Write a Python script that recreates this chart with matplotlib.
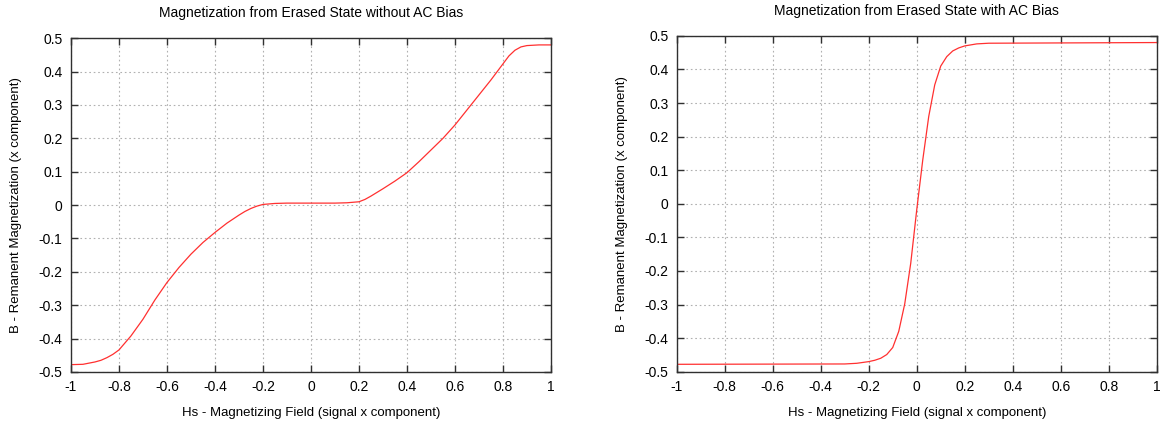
import matplotlib
matplotlib.use("Agg")
import matplotlib.pyplot as plt
from matplotlib.ticker import FixedLocator, FixedFormatter

plt.rcParams["font.family"] = ["Liberation Sans", "DejaVu Sans"]

# Remanent magnetization vs. signal field, starting from the erased state
hs_plain = [-1.0, -0.95, -0.9, -0.875, -0.85, -0.825, -0.8, -0.75, -0.7, -0.65, -0.6,
            -0.55, -0.5, -0.45, -0.4, -0.35, -0.3, -0.275, -0.25, -0.225, -0.2,
            -0.15, -0.1, 0.0, 0.1, 0.15, 0.2, 0.225, 0.25, 0.3, 0.35, 0.4, 0.45,
            0.5, 0.55, 0.6, 0.65, 0.7, 0.75, 0.8, 0.825, 0.85, 0.875, 0.9, 0.95, 1.0]
b_plain = [-0.478, -0.477, -0.47, -0.465, -0.457, -0.447, -0.434, -0.392, -0.342,
           -0.284, -0.232, -0.187, -0.147, -0.112, -0.082, -0.054, -0.03, -0.019,
           -0.01, -0.003, 0.002, 0.005, 0.006, 0.006, 0.006, 0.007, 0.01, 0.017,
           0.027, 0.049, 0.072, 0.097, 0.13, 0.165, 0.2, 0.24, 0.285, 0.33, 0.375,
           0.423, 0.447, 0.464, 0.474, 0.478, 0.48, 0.48]

# Same, with AC bias applied
hs_bias = [-1.0, -0.3, -0.25, -0.2, -0.175, -0.15, -0.125, -0.1, -0.075, -0.05,
           -0.025, 0.0, 0.025, 0.05, 0.075, 0.1, 0.125, 0.15, 0.175, 0.2, 0.25,
           0.3, 1.0]
b_bias = [-0.478, -0.477, -0.475, -0.47, -0.466, -0.46, -0.449, -0.428, -0.38,
          -0.298, -0.177, -0.018, 0.13, 0.26, 0.354, 0.41, 0.438, 0.455, 0.464,
          0.47, 0.476, 0.478, 0.48]

x_ticks = [-1, -0.8, -0.6, -0.4, -0.2, 0, 0.2, 0.4, 0.6, 0.8, 1]
x_tick_labels = ["-1", "-0.8", "-0.6", "-0.4", "-0.2", "0", "0.2", "0.4", "0.6", "0.8", "1"]
y_ticks = [-0.5, -0.4, -0.3, -0.2, -0.1, 0, 0.1, 0.2, 0.3, 0.4, 0.5]
y_tick_labels = ["-0.5", "-0.4", "-0.3", "-0.2", "-0.1", "0", "0.1", "0.2", "0.3", "0.4", "0.5"]

titles = ["Magnetization from Erased State without AC Bias",
          "Magnetization from Erased State with AC Bias"]


def draw_panel(ax, hs, b, title):
    ax.plot(hs, b, color="#ff3030", linewidth=0.9)
    ax.set_xlim(-1, 1)
    ax.set_ylim(-0.5, 0.5)
    ax.xaxis.set_major_locator(FixedLocator(x_ticks))
    ax.xaxis.set_major_formatter(FixedFormatter(x_tick_labels))
    ax.yaxis.set_major_locator(FixedLocator(y_ticks))
    ax.yaxis.set_major_formatter(FixedFormatter(y_tick_labels))
    ax.tick_params(direction="in", length=5, width=1, color="#303030",
                   top=True, right=True, labelsize=10, pad=6)
    ax.grid(True, color="#b0b0b0", linestyle=(0, (1.5, 2.5)), linewidth=0.8)
    for s in ax.spines.values():
        s.set_color("#303030")
        s.set_linewidth(1.0)
    ax.set_title(title, fontsize=10, pad=15)
    ax.set_xlabel("Hs - Magnetizing Field (signal x component)", fontsize=9.5, labelpad=9)
    ax.set_ylabel("B - Remanent Magnetization (x component)", fontsize=9.5, labelpad=12)


fig = plt.figure(figsize=(11.65, 4.23), dpi=100)
ax1 = fig.add_axes([0.0609, 0.1206, 0.412, 0.789])
ax2 = fig.add_axes([0.5809, 0.1213, 0.412, 0.794])
draw_panel(ax1, hs_plain, b_plain, titles[0])
draw_panel(ax2, hs_bias, b_bias, titles[1])

fig.savefig("out.png", dpi=100)
